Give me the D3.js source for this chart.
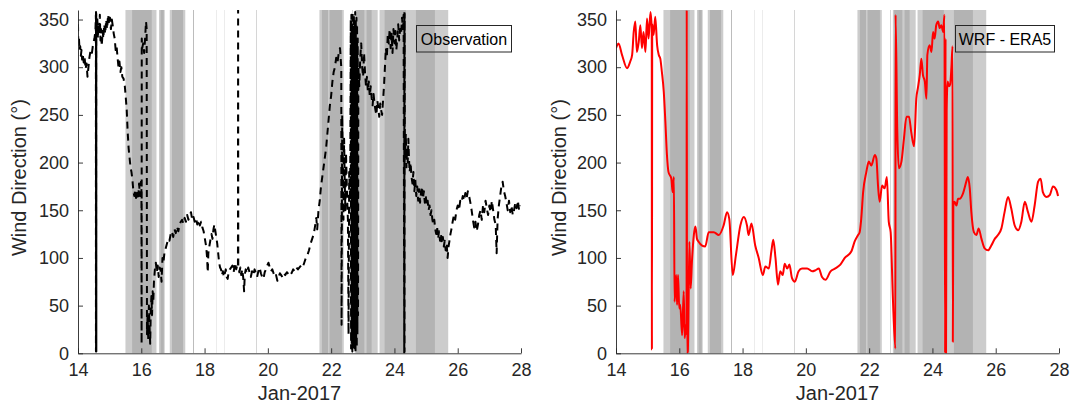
<!DOCTYPE html>
<html><head><meta charset="utf-8">
<script src="https://cdn.jsdelivr.net/npm/d3@7"></script>
<style>
body{margin:0;background:#fff}
svg{display:block}
text{font-family:"Liberation Sans",Arial,Helvetica,sans-serif}
</style>
</head><body>
<svg id="chart" width="1071" height="407"></svg>
<script>
// ---------------- data ----------------
const xTicks = [14, 16, 18, 20, 22, 24, 26, 28];
const yTicks = [0, 50, 100, 150, 200, 250, 300, 350];
const xLabel = "Jan-2017";
const yLabel = "Wind Direction (°)";
const seriesNames = ["Observation", "WRF - ERA5"];

// shaded periods (day of Jan-2017)
const lightBands = [[15.50,16.48],[16.56,16.74],[16.90,17.39],[21.63,22.40],[22.75,23.47],[23.53,25.70]];
const darkBands  = [[15.71,16.33],[16.61,16.71],[16.97,17.32],[21.71,21.90],[21.95,22.34],[22.79,23.05],[23.12,23.28],[23.69,24.36],[24.68,25.28]];
const markDates  = [17.65, 18.37, 18.62, 19.63, 22.655];
const markLevels = ["mid", "faint", "faint", "light", "light"];

// observed wind direction [day, degrees]
const obsSeries = [
[14.00,345],[14.01,325],[14.03,330],[14.05,318],[14.07,322],[14.09,312],[14.11,318],[14.13,308],[14.15,314],[14.18,305],
[14.21,310],[14.24,298],[14.27,304],[14.30,290],[14.33,300],[14.36,310],[14.40,318],[14.44,315],[14.48,325],[14.52,330],
[14.55,338],[14.565,355],[14.567,2],[14.569,358],[14.571,1],[14.573,357],[14.575,3],[14.577,356],[14.579,2],[14.581,350],
[14.59,340],[14.61,352],[14.63,330],[14.65,345],[14.67,335],[14.69,355],[14.71,328],[14.73,340],[14.75,322],[14.78,338],
[14.80,330],[14.83,345],[14.86,335],[14.89,350],[14.92,340],[14.95,355],[14.98,345],[15.01,352],[15.04,340],[15.07,350],
[15.10,343],[15.13,335],[15.16,330],[15.19,318],[15.22,322],[15.25,310],[15.28,300],[15.31,306],[15.34,295],[15.37,300],
[15.40,290],[15.44,288],[15.48,280],[15.51,268],[15.54,255],[15.57,232],[15.60,215],[15.63,205],[15.66,195],[15.69,190],
[15.72,182],[15.75,170],[15.78,165],[15.81,172],[15.84,160],[15.87,168],[15.90,162],[15.93,178],[15.96,165],[15.99,180],
[16.005,170],[16.01,10],[16.015,330],[16.03,320],[16.06,325],[16.09,315],[16.12,330],[16.15,348],[16.17,340],[16.18,20],
[16.20,40],[16.22,15],[16.24,50],[16.26,30],[16.28,10],[16.30,45],[16.32,60],[16.34,40],[16.36,65],[16.38,55],
[16.40,75],[16.43,88],[16.46,95],[16.49,85],[16.52,92],[16.55,80],[16.58,90],[16.61,88],[16.64,75],[16.67,100],
[16.70,95],[16.73,105],[16.77,110],[16.81,115],[16.85,120],[16.89,118],[16.93,125],[16.97,128],[17.01,122],[17.05,130],
[17.09,126],[17.13,133],[17.17,128],[17.21,135],[17.25,138],[17.29,140],[17.33,136],[17.37,142],[17.41,138],[17.45,145],
[17.49,140],[17.53,144],[17.57,148],[17.61,140],[17.65,143],[17.69,138],[17.73,142],[17.77,135],[17.81,140],[17.85,134],
[17.89,138],[17.93,132],[17.97,128],[18.01,120],[18.05,112],[18.08,100],[18.10,85],[18.12,105],[18.15,112],[18.18,118],
[18.22,125],[18.25,120],[18.28,130],[18.31,135],[18.34,128],[18.37,122],[18.40,115],[18.43,105],[18.46,95],[18.49,90],
[18.52,88],[18.55,82],[18.58,86],[18.61,80],[18.64,84],[18.67,88],[18.70,80],[18.73,78],[18.76,85],[18.80,88],
[18.84,90],[18.88,92],[18.92,85],[18.96,95],[19.00,88],[19.03,92],[19.055,90],[19.06,360],[19.065,92],[19.10,85],
[19.13,90],[19.16,82],[19.19,88],[19.22,80],[19.25,65],[19.27,82],[19.30,88],[19.34,84],[19.38,90],[19.42,85],
[19.46,80],[19.50,86],[19.54,82],[19.58,88],[19.62,84],[19.66,80],[19.70,86],[19.74,90],[19.78,84],[19.82,80],
[19.86,78],[19.90,85],[19.94,88],[19.98,92],[20.02,95],[20.06,90],[20.10,86],[20.14,88],[20.18,84],[20.22,80],
[20.26,82],[20.30,76],[20.34,80],[20.38,84],[20.42,82],[20.46,80],[20.50,84],[20.55,82],[20.60,85],[20.65,83],
[20.70,86],[20.75,84],[20.80,88],[20.85,86],[20.90,90],[20.95,88],[21.00,90],[21.05,92],[21.10,90],[21.15,95],
[21.20,100],[21.25,103],[21.30,108],[21.35,115],[21.40,120],[21.45,125],[21.50,135],[21.53,142],[21.56,130],[21.60,150],
[21.64,160],[21.68,175],[21.72,185],[21.76,195],[21.80,205],[21.84,215],[21.88,230],[21.92,245],[21.96,260],[22.00,270],
[22.04,285],[22.08,295],[22.12,300],[22.16,310],[22.20,305],[22.24,315],[22.28,320],[22.30,310],[22.32,300],[22.33,30],
[22.35,250],[22.37,200],[22.39,140],[22.41,225],[22.43,180],[22.45,150],[22.47,210],[22.50,170],[22.53,140],[22.55,20],
[22.57,190],[22.60,160],[22.62,350],[22.63,5],[22.64,355],[22.65,10],[22.66,345],[22.67,2],[22.68,358],[22.69,8],
[22.70,340],[22.71,3],[22.72,355],[22.73,12],[22.74,350],[22.75,5],[22.76,358],[22.77,2],[22.78,348],[22.79,15],
[22.80,352],[22.81,6],[22.82,345],[22.83,20],[22.84,330],[22.85,40],[22.86,300],[22.89,280],[22.92,310],[22.95,325],
[22.98,300],[23.01,290],[23.04,315],[23.07,295],[23.10,280],[23.13,290],[23.16,275],[23.19,285],[23.22,270],[23.25,280],
[23.28,268],[23.31,260],[23.34,272],[23.37,262],[23.40,255],[23.43,250],[23.46,265],[23.49,258],[23.52,248],[23.55,262],
[23.58,255],[23.61,250],[23.64,265],[23.67,280],[23.70,300],[23.73,320],[23.76,310],[23.79,335],[23.82,325],[23.85,340],
[23.88,320],[23.91,335],[23.94,315],[23.97,340],[24.00,325],[24.03,338],[24.06,318],[24.09,330],[24.12,345],[24.15,328],
[24.18,340],[24.21,335],[24.24,352],[24.27,340],[24.29,355],[24.31,0],[24.315,358],[24.32,2],[24.325,356],[24.33,230],
[24.34,210],[24.36,230],[24.38,195],[24.40,215],[24.42,200],[24.44,225],[24.46,205],[24.48,190],[24.51,200],[24.54,185],
[24.57,178],[24.60,190],[24.63,170],[24.66,182],[24.69,165],[24.72,175],[24.75,160],[24.78,172],[24.81,158],[24.84,168],
[24.87,175],[24.90,162],[24.93,170],[24.96,158],[24.99,165],[25.02,155],[25.05,160],[25.08,150],[25.11,155],[25.14,145],
[25.17,150],[25.20,140],[25.23,135],[25.26,140],[25.29,130],[25.32,125],[25.35,132],[25.38,120],[25.41,128],[25.44,118],
[25.47,125],[25.50,115],[25.53,122],[25.56,112],[25.59,118],[25.62,108],[25.65,115],[25.68,100],[25.71,112],[25.74,118],
[25.77,125],[25.80,130],[25.84,138],[25.88,145],[25.92,140],[25.96,150],[26.00,155],[26.04,150],[26.08,160],[26.12,158],
[26.16,165],[26.20,160],[26.24,168],[26.28,162],[26.32,170],[26.36,165],[26.40,158],[26.44,150],[26.48,140],[26.52,132],
[26.56,138],[26.60,128],[26.64,135],[26.68,145],[26.72,150],[26.76,140],[26.80,155],[26.84,148],[26.88,160],[26.92,152],
[26.96,145],[27.00,155],[27.04,148],[27.08,160],[27.12,150],[27.16,140],[27.20,135],[27.23,105],[27.26,140],[27.30,155],
[27.34,165],[27.38,175],[27.42,180],[27.46,170],[27.50,165],[27.54,158],[27.58,150],[27.62,160],[27.66,148],[27.70,155],
[27.74,145],[27.78,150],[27.82,158],[27.86,152],[27.90,160],[27.94,150],[27.98,155]
];

// WRF - ERA5 simulated wind direction [day, degrees]
const wrfSeries = [
[14.00,320],[14.08,325],[14.19,313],[14.35,299],[14.45,306],[14.51,313],[14.56,337],[14.61,348],[14.66,316],[14.72,327],
[14.77,344],[14.82,320],[14.87,337],[14.93,316],[14.98,351],[15.03,330],[15.09,358],[15.13,340],[15.135,4],[15.145,345],
[15.19,334],[15.24,353],[15.30,323],[15.35,313],[15.40,309],[15.45,295],[15.51,274],[15.56,243],[15.61,208],[15.66,190],
[15.75,183],[15.79,169],[15.83,185],[15.85,54],[15.90,82],[15.93,51],[15.96,82],[16.00,47],[16.03,51],[16.09,19],
[16.14,65],[16.17,16],[16.21,30],[16.23,20],[16.235,360],[16.245,0],[16.27,2],[16.32,117],[16.36,68],[16.40,96],
[16.46,124],[16.51,133],[16.56,120],[16.61,117],[16.72,113],[16.82,112],[16.93,127],[17.09,127],[17.25,124],[17.40,134],
[17.51,148],[17.58,141],[17.69,82],[17.79,103],[17.93,134],[18.04,143],[18.14,134],[18.19,124],[18.28,136],[18.40,113],
[18.51,100],[18.64,82],[18.72,91],[18.83,89],[18.91,107],[18.97,119],[19.04,100],[19.12,72],[19.19,86],[19.27,82],
[19.33,94],[19.41,89],[19.48,93],[19.56,79],[19.65,75],[19.77,86],[19.88,89],[20.04,89],[20.20,86],[20.30,87],
[20.41,89],[20.51,80],[20.62,77],[20.78,86],[20.93,89],[21.09,93],[21.23,100],[21.44,107],[21.54,117],[21.65,124],
[21.70,127],[21.75,141],[21.81,169],[21.91,190],[21.99,201],[22.07,197],[22.18,208],[22.23,204],[22.28,176],[22.33,159],
[22.41,176],[22.49,173],[22.56,185],[22.62,138],[22.68,127],[22.75,58],[22.83,5],[22.835,355],[22.89,232],[22.94,194],
[23.02,201],[23.10,225],[23.18,248],[23.26,248],[23.33,232],[23.42,217],[23.49,267],[23.54,278],[23.60,292],[23.65,309],
[23.70,292],[23.76,285],[23.81,267],[23.84,313],[23.91,323],[23.97,316],[24.02,337],[24.07,330],[24.12,344],[24.18,348],
[24.23,341],[24.28,344],[24.34,337],[24.38,355],[24.40,0],[24.415,330],[24.43,0],[24.45,255],[24.48,285],[24.52,280],
[24.56,282],[24.60,300],[24.635,322],[24.645,12],[24.66,155],[24.70,159],[24.76,155],[24.81,162],[24.86,162],[24.97,168],
[25.07,180],[25.12,185],[25.18,173],[25.23,148],[25.31,127],[25.39,124],[25.46,131],[25.55,120],[25.65,110],[25.76,108],
[25.86,113],[25.97,120],[26.07,124],[26.18,131],[26.28,148],[26.39,164],[26.49,152],[26.60,134],[26.71,129],[26.81,138],
[26.92,159],[27.02,148],[27.13,138],[27.23,155],[27.34,180],[27.42,183],[27.49,169],[27.60,164],[27.71,166],[27.81,175],
[27.92,171],[27.97,165]
];

// ---------------- drawing ----------------
const svg = d3.select("#chart");
svg.append("rect").attr("width",1071).attr("height",407).attr("fill","#fff");

const AX = "#262626";
const yScale = d3.scaleLinear().domain([0,360]).range([353.3, 10]);
const shadeColor = {light:"#cccccc", dark:"#b3b3b3", mid:"#bdbdbd", faint:"#ededed"};
const markColor = {mid:"#bcbcbc", faint:"#ececec", light:"#d6d6d6"};

const panels = [
  {x0:78, x1:521, series:obsSeries, name:seriesNames[0], kind:"obs", ylabX:26, legX:416.5, legW:95},
  {x0:616, x1:1059, series:wrfSeries, name:seriesNames[1], kind:"wrf", ylabX:566, legX:955.5, legW:99}
];

panels.forEach((p, i) => {
  const x = d3.scaleLinear().domain([14,28]).range([p.x0, p.x1]);
  const g = svg.append("g");
  const clipId = "clip" + i;
  svg.append("clipPath").attr("id", clipId).append("rect")
    .attr("x", p.x0).attr("y", yScale(360)).attr("width", p.x1 - p.x0).attr("height", yScale(0) - yScale(360));

  const bands = g.append("g").attr("clip-path", `url(#${clipId})`);
  bands.selectAll("rect.l").data(lightBands).join("rect").attr("class","l")
    .attr("x", d => x(d[0])).attr("width", d => x(d[1]) - x(d[0]))
    .attr("y", yScale(360)).attr("height", yScale(0) - yScale(360)).attr("fill", shadeColor.light);
  bands.selectAll("rect.d").data(darkBands).join("rect").attr("class","d")
    .attr("x", d => x(d[0])).attr("width", d => x(d[1]) - x(d[0]))
    .attr("y", yScale(360)).attr("height", yScale(0) - yScale(360)).attr("fill", shadeColor.dark);
  bands.selectAll("line.m").data(markDates).join("line").attr("class","m")
    .attr("x1", d => Math.round(x(d)) + 0.5).attr("x2", d => Math.round(x(d)) + 0.5)
    .attr("y1", yScale(360)).attr("y2", yScale(0))
    .attr("stroke", (d, j) => markColor[markLevels[j]]).attr("stroke-width", 1);

  // data line
  const line = d3.line().x(d => x(d[0])).y(d => yScale(d[1]));
  if (p.kind === "wrf") line.curve(d3.curveMonotoneX);
  g.append("path").datum(p.series)
    .attr("clip-path", `url(#${clipId})`)
    .attr("d", line)
    .attr("fill", "none")
    .attr("stroke", p.kind === "obs" ? "#000" : "#ff0000")
    .attr("stroke-width", 2)
    .attr("stroke-linejoin", "round")
    .attr("stroke-dasharray", p.kind === "obs" ? "7,5" : null);

  // axes
  const xAxis = d3.axisBottom(x).tickValues(xTicks).tickSizeInner(-5).tickSizeOuter(0).tickPadding(10).tickFormat(d3.format("d"));
  const yAxis = d3.axisLeft(yScale).tickValues(yTicks).tickSizeInner(-5).tickSizeOuter(0).tickPadding(9).tickFormat(d3.format("d"));
  const gx = g.append("g").attr("transform", `translate(0,${yScale(0)})`).call(xAxis);
  const gy = g.append("g").attr("transform", `translate(${p.x0},0)`).call(yAxis);
  [gx, gy].forEach(a => {
    a.select(".domain").attr("stroke", AX).attr("stroke-width", 0.9);
    a.selectAll(".tick line").attr("stroke", AX).attr("stroke-width", 0.9);
    a.selectAll(".tick text").attr("fill", AX).style("font-size", "18px")
      .style("font-family", '"Liberation Sans", Arial, Helvetica, sans-serif');
  });

  // axis labels
  g.append("text").attr("x", (p.x0 + p.x1) / 2).attr("y", 400)
    .attr("text-anchor", "middle").attr("fill", AX).style("font-size", "20px").text(xLabel);
  g.append("text").attr("transform", `translate(${p.ylabX},${(yScale(0) + yScale(360)) / 2 - 4}) rotate(-90)`)
    .attr("text-anchor", "middle").attr("fill", AX).style("font-size", "20px").text(yLabel);

  // legend box
  g.append("rect").attr("x", p.legX).attr("y", 25.5).attr("width", p.legW).attr("height", 26.5)
    .attr("fill", "none").attr("stroke", AX).attr("stroke-width", 1);
  g.append("text").attr("x", p.legX + p.legW / 2).attr("y", 45)
    .attr("text-anchor", "middle").attr("fill", "#000").style("font-size", "16px").text(p.name);
});
</script>
</body></html>
